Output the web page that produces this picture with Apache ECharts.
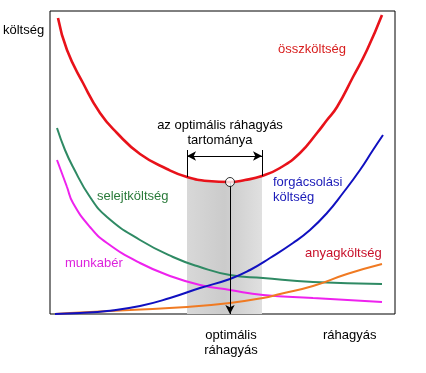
<!DOCTYPE html>
<html>
<head>
<meta charset="utf-8">
<script src="https://cdn.jsdelivr.net/npm/echarts@6/dist/echarts.min.js"></script>
<style>html,body{margin:0;padding:0;background:#fff}#c{width:426px;height:373px}</style>
</head>
<body>
<div id="c"></div>
<script>
// Values in plot units (x: ráhagyás, y: költség)
const osszkoltseg = [[8,296],[17,264],[33,231],[50,201],[67,181],[90,160],[117,145],[137,137],[158,133],[180,132],[195,134],[212,138],[230,146],[250,161],[267,181],[277,194],[287,207],[303,237],[317,264],[332,299]];
const forgacsolasi = [[5,0],[30,1],[57,3],[90,8],[120,16],[150,26],[180,35],[200,44],[220,56],[243,71],[260,84],[277,101],[293,121],[310,144],[323,164],[333,179]];
const anyagkoltseg = [[5,0],[20,1],[80,4],[137,7],[180,11],[213,16],[230,20],[263,28],[297,40],[332,50]];
const selejtkoltseg = [[7,186],[15,164],[23,147],[40,117],[57,97],[90,74],[123,57],[150,47],[180,39],[213,36],[263,32],[332,30]];
const munkaber = [[7,154],[17,127],[23,111],[40,87],[57,71],[90,51],[123,37],[150,29],[180,24],[213,19],[263,16],[332,12]];
const optimalRange = [137, 212];
const optimum = [180, 132];
const rangeArrowY = 158;
const rangeTickTop = 164;

const F = '13px "Liberation Sans", Arial, sans-serif';
function curveAt(x){ const p = osszkoltseg.find(d => d[0] === x); return p ? p[1] : 0; }
const band = osszkoltseg.filter(d => d[0] >= optimalRange[0] && d[0] <= optimalRange[1]);

function txt(x, y, s, color, align){
  return {type:'text', x:x, y:y, silent:true, style:{text:s, fill:color, font:F, textAlign:align||'left', textVerticalAlign:'middle'}};
}

const chart = echarts.init(document.getElementById('c'), null, {renderer:'canvas'});
chart.setOption({
  animation:false,
  backgroundColor:'#fff',
  grid:{left:50, top:11, width:345, height:303, show:true, borderColor:'#000', borderWidth:1, backgroundColor:'transparent'},
  xAxis:{type:'value', min:0, max:345, show:false},
  yAxis:{type:'value', min:0, max:303, show:false},
  series:[
    {type:'line', data:band, smooth:0.5, showSymbol:false, silent:true, z:1,
     lineStyle:{width:0, opacity:0},
     areaStyle:{opacity:1, color:{type:'linear', x:0, y:0, x2:1, y2:0, colorStops:[
       {offset:0, color:'#d8d8d8'},{offset:0.5, color:'#cbcbcb'},{offset:1, color:'#e0e0e0'}]}}},
    {type:'line', data:selejtkoltseg, smooth:0.5, showSymbol:false, z:3, lineStyle:{color:'#2f8a64', width:2}},
    {type:'line', data:munkaber, smooth:0.5, showSymbol:false, z:3, lineStyle:{color:'#ee22ee', width:2}},
    {type:'line', data:anyagkoltseg, smooth:0.5, showSymbol:false, z:3, lineStyle:{color:'#f07a22', width:2}},
    {type:'line', data:forgacsolasi, smooth:0.5, showSymbol:false, z:3, lineStyle:{color:'#1010c0', width:2}},
    {type:'line', data:osszkoltseg, smooth:0.5, showSymbol:false, z:4, lineStyle:{color:'#e8121a', width:2.6},
     markLine:{silent:true, animation:false, label:{show:false}, lineStyle:{color:'#000', width:1, type:'solid'}, symbolSize:[7,9], data:[
       [{coord:[optimum[0], optimum[1]], symbol:'none'},{coord:[optimum[0], 0], symbol:'arrow'}],
       [{coord:[optimalRange[0], rangeArrowY], symbol:'arrow'},{coord:[optimalRange[1], rangeArrowY], symbol:'arrow'}],
       [{coord:[optimalRange[0], curveAt(optimalRange[0])], symbol:'none'},{coord:[optimalRange[0], rangeTickTop], symbol:'none'}],
       [{coord:[optimalRange[1], curveAt(optimalRange[1])], symbol:'none'},{coord:[optimalRange[1], rangeTickTop], symbol:'none'}]
     ]}},
    {type:'scatter', data:[optimum], symbol:'circle', symbolSize:9, z:6,
     itemStyle:{color:'#fff', borderColor:'#000', borderWidth:1}}
  ],
  graphic:[
    txt(3, 30, 'költség', '#000'),
    txt(312, 49, 'összköltség', '#d81e1e', 'center'),
    txt(220, 125, 'az optimális ráhagyás', '#000', 'center'),
    txt(220, 140, 'tartománya', '#000', 'center'),
    txt(273, 182, 'forgácsolási', '#1a1ab8'),
    txt(273, 197, 'költség', '#1a1ab8'),
    txt(97, 196, 'selejtköltség', '#2a7a3a'),
    txt(65, 263, 'munkabér', '#dd22dd'),
    txt(305, 253, 'anyagköltség', '#c8102a'),
    txt(231, 335, 'optimális', '#000', 'center'),
    txt(231, 350, 'ráhagyás', '#000', 'center'),
    txt(323, 335, 'ráhagyás', '#000')
  ]
});
</script>
</body>
</html>
